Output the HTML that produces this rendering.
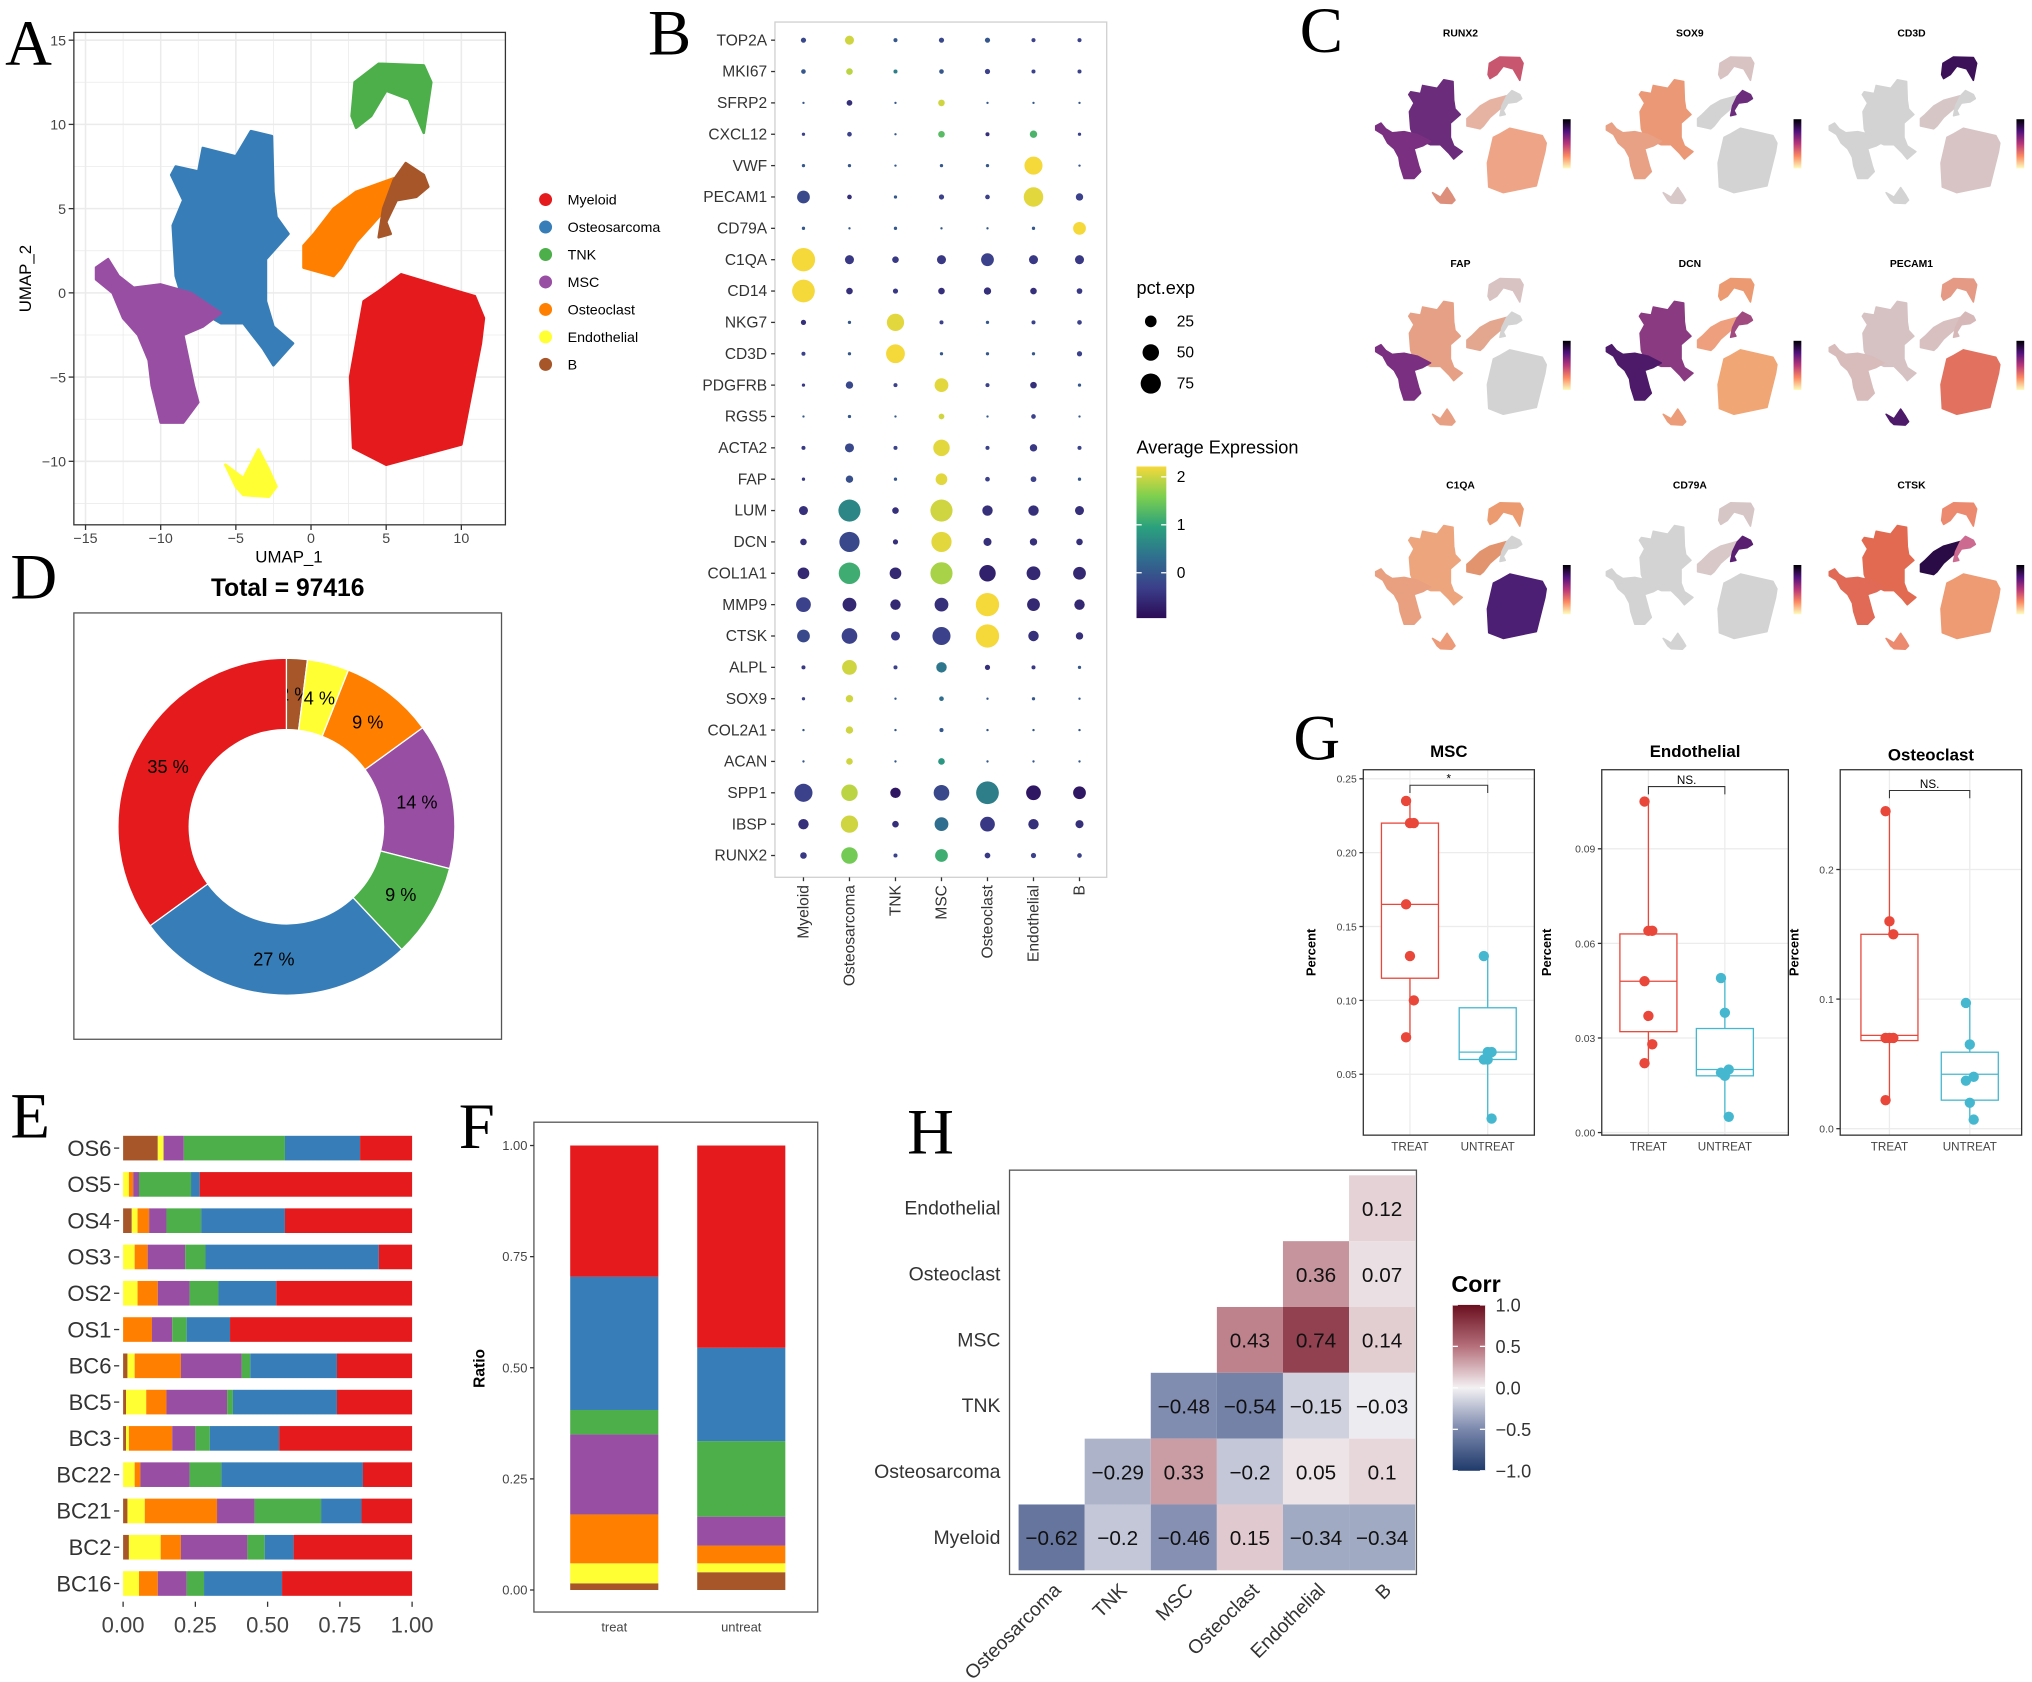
<!DOCTYPE html>
<html><head><meta charset="utf-8"><style>
html,body{margin:0;padding:0;background:#fff;}
svg{display:block;font-family:"Liberation Sans",sans-serif;}
.ser{font-family:"Liberation Serif",serif;}
</style></head><body>
<svg id="fig" xmlns="http://www.w3.org/2000/svg" width="2032" height="1682" viewBox="0 0 1568 1298" preserveAspectRatio="none">
<rect width="1568" height="1298" fill="#fff"/>
</svg>
<script>
// ---------- DATA ----------
const clusters=["Myeloid","Osteosarcoma","TNK","MSC","Osteoclast","Endothelial","B"];
const clusterColors=["#e41a1c","#377eb8","#4daf4a","#984ea3","#ff7f00","#ffff33","#a65628"];
const genes=["TOP2A","MKI67","SFRP2","CXCL12","VWF","PECAM1","CD79A","C1QA","CD14","NKG7","CD3D","PDGFRB","RGS5","ACTA2","FAP","LUM","DCN","COL1A1","MMP9","CTSK","ALPL","SOX9","COL2A1","ACAN","SPP1","IBSP","RUNX2"];
const pctExp=[[5,15,3,5,5,3,3],[4,8,3,4,5,3,3],[1,6,1,8,1,1,1],[2,4,1,8,3,10,2],[2,2,1,2,2,60,1],[30,4,2,5,4,70,10],[2,1,2,1,1,2,30],[100,15,8,15,30,15,15],[95,8,5,8,10,8,6],[5,2,55,3,2,3,4],[3,2,65,2,2,2,5],[2,10,3,35,3,8,2],[1,2,1,6,1,4,1],[3,15,3,50,3,10,3],[2,10,2,25,4,6,2],[15,90,8,90,20,20,15],[8,75,5,75,12,10,8],[25,85,25,90,50,35,30],[40,35,20,35,100,30,20],[30,45,15,60,100,20,10],[3,40,3,20,5,3,2],[2,10,1,4,1,2,1],[1,10,1,3,1,1,1],[1,8,1,8,1,1,1],[60,50,20,45,95,40,30],[20,55,8,35,40,20,12],[8,50,3,30,6,5,4]];
const avgExp=[[-.2,2,0,-.2,0,-.3,-.3],[0,1.9,.5,0,-.3,-.3,-.3],[0,-.5,0,2,0,0,0],[-.3,-.3,0,1.3,-.5,1.2,-.3],[0,0,0,0,0,2.2,0],[-.2,-.5,0,-.3,-.3,2.1,-.3],[0,0,0,0,0,0,2.2],[2.2,-.4,-.4,-.4,-.3,-.4,-.4],[2.2,-.5,-.4,-.5,-.5,-.5,-.4],[-.5,0,2.1,-.3,0,-.3,-.3],[-.3,0,2.2,0,0,0,-.3],[-.4,-.2,-.3,2.1,-.3,-.5,0],[0,0,0,2,0,-.3,0],[-.4,-.2,-.3,2.1,-.3,-.4,-.3],[-.4,-.1,0,2.1,-.3,-.3,0],[-.5,.6,-.5,2,-.5,-.5,-.5],[-.5,-.2,-.5,2.1,-.5,-.5,-.5],[-.6,1.1,-.6,1.8,-.7,-.6,-.6],[-.3,-.6,-.6,-.5,2.2,-.6,-.6],[-.2,-.3,-.4,-.3,2.2,-.5,-.5],[-.4,2,-.3,.4,-.5,-.4,0],[-.3,2,0,.3,0,0,0],[0,2,0,0,0,0,0],[0,2,0,.8,0,0,0],[-.3,1.9,-.8,-.2,.5,-.8,-.8],[-.5,2,-.5,.3,-.4,-.5,-.5],[-.4,1.5,-.3,1.1,-.4,-.3,-.3]];
const donutPct=[2,4,9,14,9,27,35]; // B, Endo, Osteoclast, MSC, TNK, Osteosarcoma, Myeloid
const samples=["OS6","OS5","OS4","OS3","OS2","OS1","BC6","BC5","BC3","BC22","BC21","BC2","BC16"];
// order: B, Endothelial, Osteoclast, MSC, TNK, Osteosarcoma (Myeloid = remainder)
const sampleProps=[[.12,.02,0,.07,.35,.26],[0,.02,.015,.02,.18,.03],[.03,.02,.04,.06,.12,.29],[0,.04,.045,.13,.07,.6],[0,.05,.07,.11,.1,.2],[0,0,.1,.07,.05,.15],[.015,.025,.16,.21,.03,.3],[.01,.07,.07,.21,.02,.36],[.01,.01,.15,.08,.05,.24],[0,.04,.02,.17,.11,.49],[.015,.06,.25,.13,.23,.14],[.02,.11,.07,.23,.06,.1],[0,.055,.065,.1,.06,.27]];
const groups=["treat","untreat"];
const groupProps=[[.015,.045,.11,.18,.055,.30],[.04,.02,.04,.065,.17,.21]];
const corrRows=["Endothelial","Osteoclast","MSC","TNK","Osteosarcoma","Myeloid"];
const corrCols=["Osteosarcoma","TNK","MSC","Osteoclast","Endothelial","B"];
const corrVals=[[null,null,null,null,null,.12],[null,null,null,null,.36,.07],[null,null,null,.43,.74,.14],[null,null,-.48,-.54,-.15,-.03],[null,-.29,.33,-.2,.05,.1],[-.62,-.2,-.46,.15,-.34,-.34]];
const gTitles=["MSC","Endothelial","Osteoclast"];
const gSig=["*","NS.","NS."];
const gTreat=[[.235,.22,.22,.165,.13,.10,.075],[.105,.064,.064,.048,.037,.028,.022],[.245,.16,.15,.07,.07,.07,.022]];
const gUntreat=[[.13,.065,.065,.06,.06,.02],[.049,.038,.02,.019,.018,.005],[.097,.065,.04,.037,.02,.007]];
const gBoxT=[[.075,.115,.165,.22,.235],[.022,.032,.048,.063,.105],[.022,.068,.072,.15,.245]];
const gBoxU=[[.02,.06,.065,.095,.13],[.005,.018,.02,.033,.049],[.007,.022,.042,.059,.097]];
const gTicks=[[.05,.10,.15,.20,.25],[0,.03,.06,.09],[0,.1,.2]];
const gTickLbl=[["0.05","0.10","0.15","0.20","0.25"],["0.00","0.03","0.06","0.09"],["0.0","0.1","0.2"]];
// UMAP blob outlines (UMAP units)
const blobs=[
 [[4.5,.1],[6,1.1],[9,.3],[10.9,-.2],[11.5,-1.5],[11.3,-3],[10,-9],[5,-10.2],[2.8,-9.2],[2.6,-5],[3.5,-.5]],
 [[-9,7.5],[-7.5,7.2],[-7.2,8.6],[-5,8.1],[-4,9.6],[-2.6,9.3],[-2.5,6],[-2.3,4.5],[-1.5,3.5],[-3,2],[-3,-.5],[-2.5,-2],[-1.2,-3],[-2.5,-4.3],[-3.2,-3.3],[-4.5,-1.8],[-6,-1.8],[-8.5,-.5],[-9,1],[-9.2,4],[-8.5,5.5],[-9.3,7]],
 [[2.7,10.5],[2.9,12.5],[4.5,13.6],[7.5,13.5],[8,12.5],[7.5,9.5],[6.5,11.5],[5,12],[4,10.5],[3,9.8]],
 [[-14.3,1.5],[-13.5,2],[-12.8,1],[-11.8,.3],[-10,.5],[-8,0],[-6,-1.2],[-7.2,-2],[-8.5,-2.5],[-7.8,-5.5],[-7.5,-6.5],[-8.5,-7.7],[-10,-7.7],[-10.6,-5.5],[-10.8,-4],[-11.5,-2.5],[-12.5,-1.5],[-13.2,0],[-14.3,.8]],
 [[-.5,1.5],[-.5,2.8],[.2,3.5],[1.5,5],[3,6],[5.5,6.8],[5,5],[4,4],[3,3],[2,1.5],[1.5,1]],
 [[-5.7,-10.2],[-4.5,-11],[-3.5,-9.3],[-2.8,-10.5],[-2.3,-11.5],[-2.8,-12.1],[-4.5,-12],[-5,-11.5]],
 [[5.5,6.7],[6.3,7.7],[7.5,7],[7.8,6.3],[7,5.7],[5.7,5.5],[5,4.2],[5.3,3.5],[4.5,3.3],[4.8,5]]
];
const featGenes=["RUNX2","SOX9","CD3D","FAP","DCN","PECAM1","C1QA","CD79A","CTSK"];
// per gene colours for [Myeloid,Osteosarcoma,TNK,MSC,Osteoclast,Endothelial,B]
const featCols=[
 ["#eea486","#6b2c7c","#c8566e","#7a2f80","#e6b3a3","#dd8f7c","#d3d3d3"],
 ["#d3d3d3","#eb9877","#d8c2c2","#e8a185","#d3d3d3","#d8c8c8","#6b2c7c"],
 ["#d8c4c4","#d3d3d3","#3d1158","#d3d3d3","#d6c6c6","#d3d3d3","#d3d3d3"],
 ["#d3d3d3","#e6a085","#d8c2c2","#7a2f80","#e3a78f","#e8a085","#d3d3d3"],
 ["#f0a675","#8a3a80","#ec9a72","#4d1a6a","#eea07e","#ec9c78","#a04a80"],
 ["#e2725f","#d6c2c2","#e49a85","#d8bcbc","#d8c0c0","#4d1a6a","#d6b8b8"],
 ["#4d1f74","#eda57e","#ec9a70","#e8a080","#e2946f","#ec9a78","#d3d3d3"],
 ["#d3d3d3","#d3d3d3","#d6c6c6","#d3d3d3","#d8c8c8","#d3d3d3","#5a1f70"],
 ["#ee9a72","#e26a50","#ec8a70","#e06a55","#2a0b45","#ec8a70","#cc6a90"]
];

// ---------- HELPERS ----------
const svg=document.getElementById('fig');
const NS="http://www.w3.org/2000/svg";
function el(tag,attrs,parent,text){const e=document.createElementNS(NS,tag);for(const k in attrs)e.setAttribute(k,attrs[k]);if(text!==undefined)e.textContent=text;(parent||svg).appendChild(e);return e;}
function grp(name){const g=el('g',{});return g;}
function lerpCol(stops,t){t=Math.max(0,Math.min(1,t));const n=stops.length-1;const i=Math.min(n-1,Math.floor(t*n));const f=t*n-i;const a=stops[i],b=stops[i+1];const h=s=>[parseInt(s.substr(1,2),16),parseInt(s.substr(3,2),16),parseInt(s.substr(5,2),16)];const A=h(a),B=h(b);return 'rgb('+A.map((v,k)=>Math.round(v+(B[k]-v)*f)).join(',')+')';}

// panel letters
[["A",4,50],["B",500,42],["C",1003,40],["D",8,462],["E",8,878],["F",354,886],["G",998,586],["H",700,890]].forEach(([t,x,y])=>{const e=el('text',{x,y,'font-size':50,class:'ser'},svg,t);});

// ---------- PANEL A: UMAP ----------
(function(){
 const g=grp('umap-panel');
 const X=u=>240+11.6*u, Y=v=>226-13*v;
 el('rect',{x:57,y:25,width:333,height:380,fill:'#fff'},g);
 for(let u=-15;u<=10;u+=2.5){el('line',{x1:X(u),x2:X(u),y1:25,y2:405,stroke:'#ebebeb','stroke-width':u%5===0?1.2:0.6},g);}
 for(let v=-12.5;v<=15;v+=2.5){el('line',{y1:Y(v),y2:Y(v),x1:57,x2:390,stroke:'#ebebeb','stroke-width':v%5===0?1.2:0.6},g);}
 blobs.forEach((b,i)=>{const p=el('polygon',{points:b.map(q=>X(q[0])+','+Y(q[1])).join(' '),fill:clusterColors[i],stroke:clusterColors[i],'stroke-width':2,'stroke-linejoin':'round'},g);});
 el('rect',{x:57,y:25,width:333,height:380,fill:'none',stroke:'#333','stroke-width':1},g);
 [-15,-10,-5,0,5,10].forEach(u=>{el('line',{x1:X(u),x2:X(u),y1:405,y2:409,stroke:'#333'},g);const t=el('text',{x:X(u),y:419,'font-size':11,'text-anchor':'middle',fill:'#444'},g,String(u).replace('-','−'));});
 [-10,-5,0,5,10,15].forEach(v=>{el('line',{x1:53,x2:57,y1:Y(v),y2:Y(v),stroke:'#333'},g);const t=el('text',{x:51,y:Y(v)+4,'font-size':11,'text-anchor':'end',fill:'#444'},g,String(v).replace('-','−'));});
 const xt=el('text',{x:223,y:434,'font-size':13,'text-anchor':'middle'},g,'UMAP_1');
 const yt=el('text',{x:24,y:215,'font-size':13,'text-anchor':'middle',transform:'rotate(-90 24 215)'},g,'UMAP_2');
 clusters.forEach((c,i)=>{const y=154+i*21.2;const d=el('circle',{cx:421,cy:y,r:5,fill:clusterColors[i]},g);const t=el('text',{x:438,y:y+4,'font-size':11},g,c);});
})();

// ---------- PANEL B: DOT PLOT ----------
(function(){
 const g=grp('dot-plot-panel');
 const colX=i=>620+i*35.5, rowY=j=>31+j*24.2;
 const vir=['#2b0b57','#3b3f8a','#2f6f8e','#2aa17d','#7ccf4f','#f5d83a'];
 const colorFor=v=>lerpCol(vir,(v+0.95)/3.15);
 const rFor=p=>0.9*Math.sqrt(p);
 el('rect',{x:598,y:17,width:256,height:660,fill:'#fff',stroke:'#cfcfcf'},g);
 genes.forEach((gn,j)=>{const t=el('text',{x:592,y:rowY(j)+4,'font-size':12,'text-anchor':'end',fill:'#333'},g,gn);el('line',{x1:595,x2:598,y1:rowY(j),y2:rowY(j),stroke:'#333'},g);
  clusters.forEach((c,i)=>{const d=el('circle',{cx:colX(i),cy:rowY(j),r:rFor(pctExp[j][i]),fill:colorFor(avgExp[j][i])},g);});});
 clusters.forEach((c,i)=>{el('line',{x1:colX(i),x2:colX(i),y1:677,y2:680,stroke:'#333'},g);const x=colX(i)+4;const t=el('text',{x,y:683,'font-size':12,'text-anchor':'end',fill:'#333',transform:`rotate(-90 ${x} 683)`},g,c);});
 const t1=el('text',{x:877,y:227,'font-size':14},g,'pct.exp');
 [25,50,75].forEach((p,k)=>{el('circle',{cx:888,cy:248+k*24,r:rFor(p),fill:'#000'},g);const t=el('text',{x:908,y:252+k*24,'font-size':12},g,String(p));});
 const t2=el('text',{x:877,y:350,'font-size':14},g,'Average Expression');
 const defs=el('defs',{},g);const lg=el('linearGradient',{id:'virg',x1:0,y1:1,x2:0,y2:0},defs);vir.forEach((c,k)=>el('stop',{offset:k/(vir.length-1),'stop-color':c},lg));
 el('rect',{x:877,y:360,width:23,height:117,fill:'url(#virg)'},g);
 [[2,368],[1,405],[0,442]].forEach(([v,y])=>{el('line',{x1:877,x2:881,y1:y,y2:y,stroke:'#fff'},g);el('line',{x1:896,x2:900,y1:y,y2:y,stroke:'#fff'},g);const t=el('text',{x:908,y:y+4,'font-size':12},g,String(v));});
})();

// ---------- PANEL C: FEATURE PLOTS ----------
(function(){
 const g=grp('feature-plots-panel');
 const ox=[1058,1236,1408], oy=[40,211,384], tx=[1127,1304,1475], ty=[28,206,377];
 const mag=['#fcfdbf','#fc8961','#b73779','#51127c','#000004'];
 const defs=el('defs',{},g);const lg=el('linearGradient',{id:'magg',x1:0,y1:1,x2:0,y2:0},defs);mag.forEach((c,k)=>el('stop',{offset:k/(mag.length-1),'stop-color':c},lg));
 featGenes.forEach((gn,k)=>{const r=Math.floor(k/3),c=k%3;const sub=el('g',{},g);
  const X=u=>ox[c]+(u+15)*5.1, Y=v=>oy[r]+(14.5-v)*4.4;
  const t=el('text',{x:tx[c],y:ty[r],'font-size':8,'font-weight':'bold','text-anchor':'middle'},sub,gn);
  blobs.forEach((b,i)=>{el('polygon',{points:b.map(q=>X(q[0])+','+Y(q[1])).join(' '),fill:featCols[k][i],stroke:featCols[k][i],'stroke-width':1.2,'stroke-linejoin':'round'},sub);});
  el('rect',{x:ox[c]+148,y:oy[r]+52,width:6,height:38,fill:'url(#magg)'},sub);
 });
})();

// ---------- PANEL D: DONUT ----------
(function(){
 const g=grp('donut-panel');
 el('rect',{x:57,y:473,width:330,height:329,fill:'#fff',stroke:'#555'},g);
 const t=el('text',{x:222,y:460,'font-size':19,'font-weight':'bold','text-anchor':'middle'},g,'Total =  97416');
 const cx=221,cy=638,R=130,r0=75;const order=[6,5,4,3,2,1,0];
 let a=0;const tot=donutPct.reduce((s,v)=>s+v,0);
 const pt=(ang,rad)=>[cx+rad*Math.sin(ang),cy-rad*Math.cos(ang)];
 donutPct.forEach((p,i)=>{const a0=a,a1=a+p/tot*2*Math.PI;a=a1;const L=(a1-a0)>Math.PI?1:0;
  const [x0,y0]=pt(a0,R),[x1,y1]=pt(a1,R),[x2,y2]=pt(a1,r0),[x3,y3]=pt(a0,r0);
  const s=el('path',{d:`M${x0},${y0}A${R},${R} 0 ${L} 1 ${x1},${y1}L${x2},${y2}A${r0},${r0} 0 ${L} 0 ${x3},${y3}Z`,fill:clusterColors[order[i]],stroke:'#fff','stroke-width':1},g);
  
  const [lx,ly]=pt((a0+a1)/2,(R+r0)/2);const tt=el('text',{x:lx,y:ly+5,'font-size':14,'text-anchor':'middle'},g,p+' %');
 });
})();

// ---------- PANEL E: SAMPLE STACKED BARS ----------
(function(){
 const g=grp('sample-bars-panel');
 const X=v=>95+223*v, Y=j=>886+j*28;
 const order=[6,5,4,3,2,1,0];
 samples.forEach((s,j)=>{let acc=0;const vals=sampleProps[j].slice();vals.push(1-vals.reduce((a,b)=>a+b,0));
  vals.forEach((v,k)=>{if(v<=0)return;const r=el('rect',{x:X(acc),y:Y(j)-9.5,width:X(acc+v)-X(acc),height:19,fill:clusterColors[order[k]]},g);acc+=v;});
  const t=el('text',{x:86,y:Y(j)+6,'font-size':17,'text-anchor':'end',fill:'#333'},g,s);el('line',{x1:88,x2:92,y1:Y(j),y2:Y(j),stroke:'#333'},g);});
 [0,.25,.5,.75,1].forEach(v=>{el('line',{x1:X(v),x2:X(v),y1:1236,y2:1240,stroke:'#333'},g);const t=el('text',{x:X(v),y:1260,'font-size':17,'text-anchor':'middle',fill:'#444'},g,v.toFixed(2));});
})();

// ---------- PANEL F: GROUP STACKED BARS ----------
(function(){
 const g=grp('group-bars-panel');
 const Y=v=>1227-343*v, bx=[440,538];
 el('rect',{x:412,y:866,width:219,height:378,fill:'#fff',stroke:'#555'},g);
 const order=[6,5,4,3,2,1,0];
 groups.forEach((gr,j)=>{let acc=0;const vals=groupProps[j].slice();vals.push(1-vals.reduce((a,b)=>a+b,0));
  vals.forEach((v,k)=>{const r=el('rect',{x:bx[j],y:Y(acc+v),width:68,height:Y(acc)-Y(acc+v),fill:clusterColors[order[k]]},g);acc+=v;});
  const t=el('text',{x:bx[j]+34,y:1259,'font-size':10,'text-anchor':'middle',fill:'#444'},g,gr);});
 [0,.25,.5,.75,1].forEach(v=>{el('line',{x1:409,x2:412,y1:Y(v),y2:Y(v),stroke:'#333'},g);const t=el('text',{x:407,y:Y(v)+3.5,'font-size':10,'text-anchor':'end',fill:'#444'},g,v.toFixed(2));});
 const yt=el('text',{x:374,y:1056,'font-size':12,'font-weight':'bold','text-anchor':'middle',transform:'rotate(-90 374 1056)'},g,'Ratio');
})();

// ---------- PANEL G: BOXPLOTS ----------
(function(){
 const boxes=[[1052,594,132,282],[1236,594,144,282],[1420,594,140,282]];
 const y0=[886,874,871], ppu=[1140,2433,1000];
 const xs=[[1088,1148],[1272,1331],[1458,1520]];
 const titleY=[584,584,587], sigY=[606,607,610];
 const lblX=[1015,1197,1388];
 const colT='#e8473a', colU='#45b8d0';
 gTitles.forEach((tt,k)=>{const g=grp('boxplot-'+tt.toLowerCase());const [bx,by,bw,bh]=boxes[k];const Y=v=>y0[k]-ppu[k]*v;
  el('rect',{x:bx,y:by,width:bw,height:bh,fill:'#fff'},g);
  gTicks[k].forEach((v,i)=>{el('line',{x1:bx,x2:bx+bw,y1:Y(v),y2:Y(v),stroke:'#ececec'},g);el('line',{x1:bx-3,x2:bx,y1:Y(v),y2:Y(v),stroke:'#333'},g);const t=el('text',{x:bx-5,y:Y(v)+3,'font-size':8,'text-anchor':'end',fill:'#444'},g,gTickLbl[k][i]);});
  xs[k].forEach(x=>el('line',{x1:x,x2:x,y1:by,y2:by+bh,stroke:'#ececec'},g));
  el('rect',{x:bx,y:by,width:bw,height:bh,fill:'none',stroke:'#333'},g);
  const t=el('text',{x:bx+bw/2,y:titleY[k],'font-size':13,'font-weight':'bold','text-anchor':'middle'},g,tt);
  const yl=el('text',{x:lblX[k],y:735,'font-size':10,'font-weight':'bold','text-anchor':'middle',transform:`rotate(-90 ${lblX[k]} 735)`},g,'Percent');
  [[gBoxT[k],gTreat[k],colT,xs[k][0],'TREAT'],[gBoxU[k],gUntreat[k],colU,xs[k][1],'UNTREAT']].forEach(([bxs,pts,col,x,lab])=>{
   el('line',{x1:x,x2:x,y1:Y(bxs[0]),y2:Y(bxs[4]),stroke:col},g);
   const rb=el('rect',{x:x-22,y:Y(bxs[3]),width:44,height:Y(bxs[1])-Y(bxs[3]),fill:'#fff',stroke:col},g);
   el('line',{x1:x-22,x2:x+22,y1:Y(bxs[2]),y2:Y(bxs[2]),stroke:col},g);
   pts.forEach((v,i)=>{const c=el('circle',{cx:x+((i%3)-1)*3,cy:Y(v),r:4,fill:col},g);});
   const l=el('text',{x,y:by+bh+12,'font-size':9,'text-anchor':'middle',fill:'#444'},g,lab);
  });
  const sy=sigY[k];el('path',{d:`M${xs[k][0]},${sy+6}V${sy}H${xs[k][1]}V${sy+6}`,fill:'none',stroke:'#333','stroke-width':0.8},g);
  const s=el('text',{x:(xs[k][0]+xs[k][1])/2,y:sy-2,'font-size':9,'text-anchor':'middle'},g,gSig[k]);
 });
})();

// ---------- PANEL H: CORRELATION ----------
(function(){
 const g=grp('correlation-panel');
 const cw=51, ch=50.8, x0=786, y0=907;
 const stops=['#1f3a6b','#7b88ad','#f3f1f3','#b5707b','#6b0f1f'];
 const cf=v=>lerpCol(stops,(v+1)/2);
 el('rect',{x:779,y:903,width:314,height:312,fill:'#fff',stroke:'#555'},g);
 corrRows.forEach((rn,j)=>{const t=el('text',{x:772,y:y0+j*ch+ch/2+5,'font-size':15,'text-anchor':'end',fill:'#333'},g,rn);
  corrCols.forEach((cn,i)=>{const v=corrVals[j][i];if(v===null)return;const c=el('rect',{x:x0+i*cw,y:y0+j*ch,width:cw,height:ch,fill:cf(v)},g);
   const tx=el('text',{x:x0+i*cw+cw/2,y:y0+j*ch+ch/2+6,'font-size':16,'text-anchor':'middle',fill:'#111'},g,String(v).replace('-','−').replace(/^0\./,'0.').replace('−0.','−0.'));});});
 corrCols.forEach((cn,i)=>{const x=x0+i*cw+cw/2+8,y=1228;const t=el('text',{x,y,'font-size':15,'text-anchor':'end',fill:'#333',transform:`rotate(-45 ${x} ${y})`},g,cn);});
 const lt=el('text',{x:1120,y:997,'font-size':18,'font-weight':'bold'},g,'Corr');
 const defs=el('defs',{},g);const lg=el('linearGradient',{id:'corrg',x1:0,y1:1,x2:0,y2:0},defs);stops.forEach((c,k)=>el('stop',{offset:k/(stops.length-1),'stop-color':c},lg));
 el('rect',{x:1121,y:1007,width:25,height:128,fill:'url(#corrg)'},g);
 [[1,'1.0'],[.5,'0.5'],[0,'0.0'],[-.5,'−0.5'],[-1,'−1.0']].forEach(([v,l])=>{const y=1071-64*v;el('line',{x1:1121,x2:1125,y1:y,y2:y,stroke:'#fff'},g);el('line',{x1:1142,x2:1146,y1:y,y2:y,stroke:'#fff'},g);const t=el('text',{x:1154,y:y+5,'font-size':14,fill:'#333'},g,l);});
})();
</script>
</body></html>
